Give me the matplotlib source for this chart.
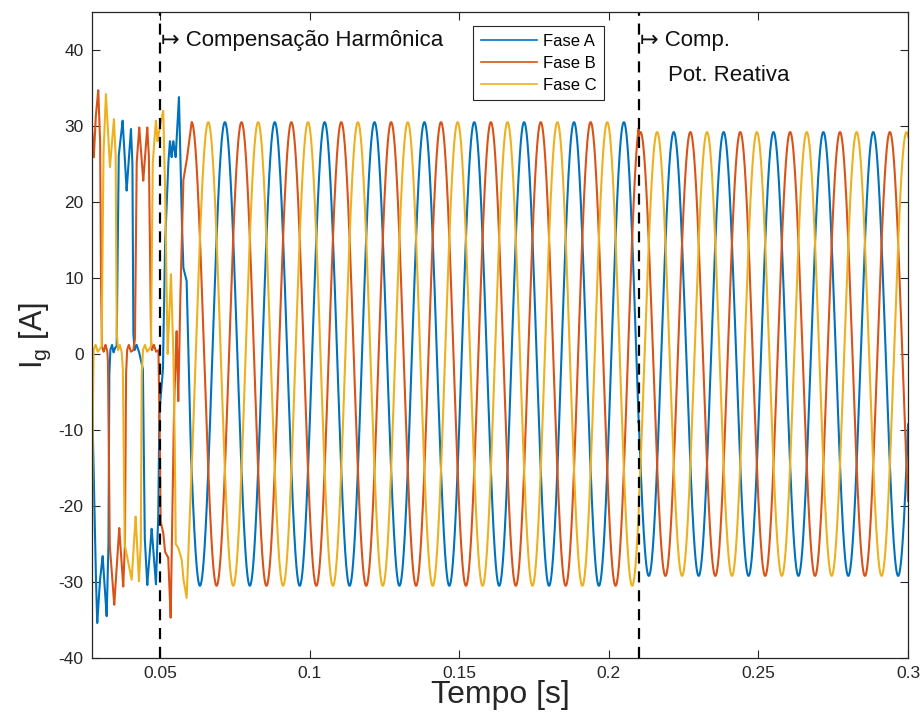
import numpy as np
import matplotlib.pyplot as plt

plt.rcParams['font.family'] = ['Liberation Sans', 'DejaVu Sans']
plt.rcParams['axes.unicode_minus'] = False

# Eixos
t_lim = [0.0273, 0.3]
i_lim = [-40, 45]
x_ticks = [0.05, 0.1, 0.15, 0.2, 0.25, 0.3]
x_tick_labels = ['0.05', '0.1', '0.15', '0.2', '0.25', '0.3']
y_ticks = [-40, -30, -20, -10, 0, 10, 20, 30, 40]

# Regime permanente
f_rede = 60.0           # Hz
t_pico_a = 0.0717       # instante de um pico da fase A
marcos = [0.05, 0.21]   # compensação harmônica / compensação de reativos
amp_seg = [30.5, 29.2]  # amplitude antes / depois de 0.21 s

# Trecho inicial (carga não linear) e transitório: tempo [s], corrente [A]
ta = [0.02727, 0.0285, 0.02904, 0.0299, 0.03085, 0.0316, 0.03219, 0.0328, 0.03305, 0.0334,
      0.0340, 0.0345, 0.0350, 0.03553, 0.0362, 0.03753, 0.03887, 0.04031, 0.0408, 0.04108,
      0.0415, 0.0422, 0.0430, 0.0443, 0.0449, 0.04576, 0.04723, 0.04866, 0.04943, 0.04977,
      0.05057, 0.0510, 0.05167, 0.05277, 0.05334, 0.05391, 0.05445, 0.05525, 0.05635, 0.05725,
      0.05779, 0.05892, 0.05946, 0.0603]
ia = [-4.9, -28, -35.4, -30, -26.6, -31, -34.5, -25, -3, 0.5,
      1.2, 0.2, 0.8, 1, 26, 30.7, 21.5, 29.6, 25, 3,
      0.5, 1.2, 0.3, -2, -24, -30.4, -23, -30.3, -21.6, -8,
      -4.2, -2, 14, 25, 28, 25.9, 28, 25.9, 33.8, 18.4,
      11.4, 9.6, 0.8, -12.2]

tb = [0.02727, 0.0279, 0.0285, 0.02938, 0.0300, 0.03028, 0.0306, 0.0312, 0.0318, 0.0324,
      0.03262, 0.0332, 0.03473, 0.0364, 0.03773, 0.0383, 0.03864, 0.0390, 0.0396, 0.0403,
      0.0411, 0.04164, 0.0422, 0.04308, 0.04442, 0.04576, 0.0463, 0.04699, 0.0473, 0.0480,
      0.0487, 0.0495, 0.0500, 0.0502, 0.0511, 0.05167, 0.05277, 0.05358, 0.05445, 0.0548,
      0.05558, 0.05612, 0.05668, 0.05779, 0.05892, 0.0606]
ib = [30, 25.9, 31, 34.7, 28, 10, 1, 0.3, 1.2, 0.4,
      -1, -25, -33, -22.9, -30.6, -25, -3, 0.5, 1.2, 0.3,
      0.5, 2, 25, 29.8, 22.8, 29.8, 26, 2, 0.5, 1.2,
      0.3, 0.5, -12.3, -22, -23.5, -26, -26.8, -34.7, -12.8, -5.8,
      3, -6.2, 5.2, 22.8, 25.4, 30.5]

tc = [0.02727, 0.0275, 0.0278, 0.0285, 0.0292, 0.0298, 0.03051, 0.0311, 0.03195, 0.03329,
      0.03463, 0.0352, 0.03553, 0.0360, 0.0366, 0.0372, 0.0376, 0.0382, 0.04054, 0.04188,
      0.04298, 0.0436, 0.04388, 0.0443, 0.0450, 0.0457, 0.0464, 0.0470, 0.04756, 0.04866,
      0.0492, 0.0500, 0.0511, 0.05167, 0.05257, 0.05368, 0.05445, 0.0549, 0.05525, 0.05612,
      0.05725, 0.05779, 0.05892, 0.0601]
ic = [-27, -10, 0.5, 1.2, 0.3, 0.6, 1, 26, 34.2, 24.6,
      30.9, 26, 3, 0.5, 1.2, 0.3, -2, -25, -29.7, -21.4,
      -29.9, -25, -3, 0.5, 1.2, 0.3, 0.6, 1, 25, 30.7,
      28, 30, 32, 22.8, 0, 10.5, 0.8, -10, -25, -25.5,
      -27, -29.5, -32.1, -19.8]

fases = ['Fase A', 'Fase B', 'Fase C']
defasagem = [0, -2*np.pi/3, 2*np.pi/3]
cores = ['#0072BD', '#D95319', '#EDB120']
trechos = [(ta, ia), (tb, ib), (tc, ic)]

t = np.arange(0.02727, 0.3001, 1e-5)
amp = np.where(t < marcos[1], amp_seg[0], amp_seg[1])

fig = plt.figure(figsize=(9.23, 7.26), dpi=100)
ax = fig.add_axes([0.0997, 0.0937, 0.8841, 0.8898])

for nome, fi, cor, (tv, iv) in zip(fases, defasagem, cores, trechos):
    regime = amp * np.cos(2*np.pi*f_rede*(t - t_pico_a) + fi)
    i = np.where(t < tv[-1], np.interp(t, tv, iv), regime)
    ax.plot(t, i, color=cor, lw=1.5, label=nome)

for m in marcos:
    ax.axvline(m, color='k', ls='--', lw=1.6, dashes=(5, 3.5))

ax.text(0.0504, 41.3, '\u21a6 Compensação Harmônica', fontsize=16, va='center', color='#111111')
ax.text(0.2104, 41.3, '\u21a6 Comp.', fontsize=16, va='center', color='#111111')
ax.text(0.2198, 36.6, 'Pot. Reativa', fontsize=16, va='center', color='#111111')

ax.set_xlim(t_lim)
ax.set_ylim(i_lim)
ax.set_xticks(x_ticks)
ax.set_xticklabels(x_tick_labels)
ax.set_yticks(y_ticks)
ax.tick_params(direction='in', length=5.5, width=0.8, top=True, right=True,
               labelsize=12.5, colors='#262626', pad=6)
for s in ax.spines.values():
    s.set_color('#262626')
    s.set_linewidth(0.9)

ax.set_xlabel('Tempo [s]', fontsize=23, color='#262626', labelpad=-1)
ax.set_ylabel('I$_\\mathregular{g}$ [A]', fontsize=22, color='#262626', labelpad=4)

leg = ax.legend(loc='upper left', bbox_to_anchor=(0.467, 0.978), borderaxespad=0,
                fontsize=12, frameon=True, fancybox=False, framealpha=1,
                edgecolor='#262626', handlelength=3.4, handletextpad=0.35,
                labelspacing=0.42, borderpad=0.45)
leg.get_frame().set_linewidth(0.8)
for h in leg.get_lines():
    h.set_linewidth(1.2)

fig.savefig('out.png', dpi=100)
